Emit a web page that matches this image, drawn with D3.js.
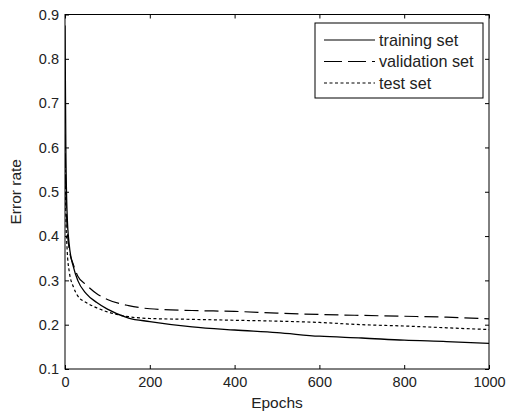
<!DOCTYPE html>
<html>
<head>
<meta charset="utf-8">
<script src="https://cdn.jsdelivr.net/npm/d3@7"></script>
<style>
  html, body { margin: 0; padding: 0; background: #fff; }
  svg { display: block; }
  text { font-family: "Liberation Sans", Arial, sans-serif; fill: #222; }
</style>
</head>
<body>
<svg id="chart" width="507" height="415"></svg>
<script>
// ---- data ----
const epochs = [0, 2, 5, 10, 20, 30, 50, 75, 100, 150, 200, 300, 400, 500, 600, 700, 800, 900, 1000];
const trainingSet = [0.875, 0.60, 0.45, 0.38, 0.33, 0.30, 0.27, 0.25, 0.235, 0.215, 0.207, 0.195, 0.188, 0.182, 0.174, 0.170, 0.165, 0.162, 0.158];
const validationSet = [0.63, 0.50, 0.42, 0.37, 0.335, 0.31, 0.29, 0.27, 0.257, 0.243, 0.236, 0.232, 0.230, 0.226, 0.223, 0.221, 0.219, 0.217, 0.213];
const testSet = [0.60, 0.45, 0.37, 0.32, 0.285, 0.265, 0.25, 0.238, 0.229, 0.218, 0.214, 0.212, 0.210, 0.208, 0.205, 0.200, 0.197, 0.193, 0.189];
const seriesNames = ["training set", "validation set", "test set"];
const xTicks = [0, 200, 400, 600, 800, 1000];
const yTicks = [0.1, 0.2, 0.3, 0.4, 0.5, 0.6, 0.7, 0.8, 0.9];

// ---- layout ----
const svg = d3.select("#chart");
const L = 65, R = 489, T = 14.5, B = 369;
const x = d3.scaleLinear().domain([0, 1000]).range([L, R]);
const y = d3.scaleLinear().domain([0.1, 0.9]).range([B, T]);

const dashes = ["none", "14,6", "3,2.5"];
const seriesData = [trainingSet, validationSet, testSet];

// frame
svg.append("rect").attr("x", L).attr("y", T).attr("width", R - L).attr("height", B - T)
  .attr("fill", "none").attr("stroke", "#000").attr("stroke-width", 1);

const tickLen = 4;
const xb = svg.append("g").attr("transform", `translate(0,${B})`)
  .call(d3.axisBottom(x).tickValues(xTicks).tickSizeInner(-tickLen).tickSizeOuter(0).tickPadding(8).tickFormat(d3.format("d")));
const xt = svg.append("g").attr("transform", `translate(0,${T})`)
  .call(d3.axisTop(x).tickValues(xTicks).tickSizeInner(-tickLen).tickSizeOuter(0).tickFormat(""));
const yl = svg.append("g").attr("transform", `translate(${L},0)`)
  .call(d3.axisLeft(y).tickValues(yTicks).tickSizeInner(-tickLen).tickSizeOuter(0).tickPadding(6).tickFormat(d3.format(".1f")));
const yr = svg.append("g").attr("transform", `translate(${R},0)`)
  .call(d3.axisRight(y).tickValues(yTicks).tickSizeInner(-tickLen).tickSizeOuter(0).tickFormat(""));
[xb, xt, yl, yr].forEach(g => {
  g.select(".domain").remove();
  g.selectAll("line").attr("stroke", "#000");
  g.selectAll("text").attr("font-size", 14.5).attr("fill", "#222").attr("font-family", "Liberation Sans, Arial, sans-serif");
});

// axis labels
svg.append("text").attr("x", (L + R) / 2).attr("y", 408).attr("text-anchor", "middle")
  .attr("font-size", 15.5).text("Epochs");
svg.append("text").attr("transform", `translate(21,${(T + B) / 2}) rotate(-90)`).attr("text-anchor", "middle")
  .attr("font-size", 15.5).text("Error rate");

// lines
const line = d3.line().x((d, i) => x(epochs[i])).y(d => y(d)).curve(d3.curveMonotoneX);
svg.append("clipPath").attr("id", "clip").append("rect")
  .attr("x", L).attr("y", T).attr("width", R - L).attr("height", B - T);
seriesData.forEach((s, k) => {
  svg.append("path").datum(s).attr("d", line).attr("fill", "none")
    .attr("stroke", "#000").attr("stroke-width", k === 0 ? 1.3 : 1.2)
    .attr("stroke-dasharray", dashes[k]).attr("clip-path", "url(#clip)");
});

// legend
const lg = svg.append("g");
lg.append("rect").attr("x", 315).attr("y", 23).attr("width", 168).attr("height", 75)
  .attr("fill", "#fff").attr("stroke", "#000").attr("stroke-width", 1);
seriesNames.forEach((n, k) => {
  const cy = 40 + k * 21.5;
  lg.append("line").attr("x1", 324).attr("x2", 375).attr("y1", cy).attr("y2", cy)
    .attr("stroke", "#000").attr("stroke-width", 1.2).attr("stroke-dasharray", k === 1 ? "18,6" : dashes[k]);
  lg.append("text").attr("x", 379).attr("y", cy).attr("dy", "0.36em")
    .attr("font-size", 16.2).text(n);
});
</script>
</body>
</html>
